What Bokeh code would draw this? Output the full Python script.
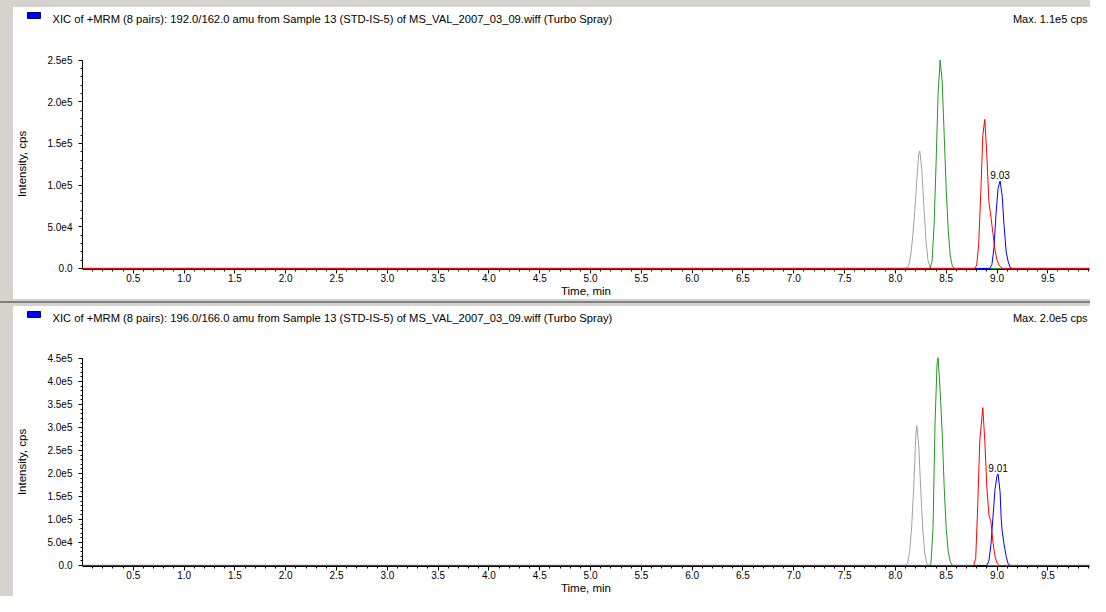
from bokeh.plotting import figure
from bokeh.models import Range1d, FixedTicker, Label, Div
from bokeh.layouts import column
from bokeh.core.properties import value
from bokeh.embed import file_html
from bokeh.resources import INLINE
import numpy as np

FONT = "Liberation Sans"
X_END = 9.91

titles = [
    "XIC of +MRM (8 pairs): 192.0/162.0 amu from Sample 13 (STD-IS-5) of MS_VAL_2007_03_09.wiff (Turbo Spray)",
    "XIC of +MRM (8 pairs): 196.0/166.0 amu from Sample 13 (STD-IS-5) of MS_VAL_2007_03_09.wiff (Turbo Spray)",
]
max_labels = ["Max. 1.1e5 cps", "Max. 2.0e5 cps"]
peak_rt = [9.03, 9.01]
peak_int = [1.05e5, 1.99e5]

x_ticks = [0.5, 1.0, 1.5, 2.0, 2.5, 3.0, 3.5, 4.0, 4.5, 5.0, 5.5, 6.0, 6.5, 7.0, 7.5, 8.0, 8.5, 9.0, 9.5]
x_tick_labels = ["0.5", "1.0", "1.5", "2.0", "2.5", "3.0", "3.5", "4.0", "4.5", "5.0",
                 "5.5", "6.0", "6.5", "7.0", "7.5", "8.0", "8.5", "9.0", "9.5"]

top_y_ticks = [0, 5e4, 1e5, 1.5e5, 2e5, 2.5e5]
top_y_labels = ["0.0", "5.0e4", "1.0e5", "1.5e5", "2.0e5", "2.5e5"]
bot_y_ticks = [0, 5e4, 1e5, 1.5e5, 2e5, 2.5e5, 3e5, 3.5e5, 4e5, 4.5e5]
bot_y_labels = ["0.0", "5.0e4", "1.0e5", "1.5e5", "2.0e5", "2.5e5", "3.0e5", "3.5e5", "4.0e5", "4.5e5"]

# ---- top panel traces (time, intensity)
top_gray_t = [0.0, 8.10, 8.13, 8.15, 8.17, 8.19, 8.21, 8.23, 8.24, 8.26, 8.28, 8.30, 8.32, 8.34, 8.36, X_END]
top_gray_i = [0, 0, 3e3, 1.5e4, 3.8e4, 6.8e4, 1.05e5, 1.38e5, 1.41e5, 1.18e5, 7.5e4, 3.5e4, 1.0e4, 1e3, 0, 0]
top_green_t = [0.0, 8.34, 8.36, 8.38, 8.40, 8.42, 8.44, 8.46, 8.48, 8.50, 8.52, 8.54, 8.56, 8.58, X_END]
top_green_i = [0, 0, 8e3, 5.0e4, 1.25e5, 2.1e5, 2.5e5, 2.25e5, 1.6e5, 9.5e4, 4.5e4, 1.5e4, 3e3, 0, 0]
top_blue_t = [0.0, 8.93, 8.95, 8.97, 8.99, 9.01, 9.03, 9.05, 9.07, 9.09, 9.11, 9.13, 9.15, X_END]
top_blue_i = [0, 0, 5e3, 2.5e4, 6.5e4, 9.6e4, 1.05e5, 8.8e4, 5.0e4, 2.0e4, 8e3, 1e3, 0, 0]
top_red_t = [0.0, 8.78, 8.80, 8.82, 8.84, 8.86, 8.88, 8.90, 8.92, 8.94, 8.96, 8.98, 9.00, 9.02, 9.04, 9.06, X_END]
top_red_i = [0, 0, 4e3, 3.0e4, 9.0e4, 1.6e5, 1.79e5, 1.35e5, 8.0e4, 6.2e4, 4.2e4, 2.2e4, 1.0e4, 4e3, 1e3, 0, 0]

# ---- bottom panel traces
bot_gray_t = [0.0, 8.10, 8.12, 8.14, 8.16, 8.18, 8.20, 8.21, 8.23, 8.25, 8.27, 8.29, 8.31, 8.33, X_END]
bot_gray_i = [0, 0, 5e3, 3.0e4, 8.5e4, 1.7e5, 2.8e5, 3.04e5, 2.6e5, 1.6e5, 7.5e4, 2.5e4, 4e3, 0, 0]
bot_green_t = [0.0, 8.34, 8.35, 8.37, 8.39, 8.41, 8.42, 8.44, 8.46, 8.48, 8.50, 8.52, 8.54, 8.56, X_END]
bot_green_i = [0, 0, 5e3, 8.0e4, 3.1e5, 4.4e5, 4.52e5, 3.8e5, 2.9e5, 1.7e5, 8.0e4, 3.0e4, 8e3, 0, 0]
bot_blue_t = [0.0, 8.90, 8.92, 8.94, 8.96, 8.98, 9.00, 9.01, 9.03, 9.04, 9.05, 9.07, 9.09, 9.11, 9.13, X_END]
bot_blue_i = [0, 0, 1.0e4, 4.5e4, 1.05e5, 1.65e5, 1.95e5, 1.99e5, 1.6e5, 1.05e5, 7.5e4, 4.5e4, 2.0e4, 3e3, 0, 0]
bot_red_t = [0.0, 8.77, 8.79, 8.81, 8.83, 8.86, 8.88, 8.90, 8.92, 8.94, 8.96, 8.98, 9.00, 9.02, X_END]
bot_red_i = [0, 0, 1.5e4, 1.3e5, 2.7e5, 3.43e5, 2.7e5, 1.7e5, 1.1e5, 9.5e4, 5.0e4, 2.0e4, 5e3, 0, 0]

COLORS = {"gray": "#a0a0a0", "green": "#1f9a1f", "blue": "#0000ff", "red": "#ff0000"}
PANEL_BG = "#d6d3ce"
FIG_W = 1077
HEAD_H = 36


def make_header(idx):
    h = figure(width=FIG_W, height=HEAD_H, output_backend="svg", toolbar_location=None,
               x_range=Range1d(0, FIG_W), y_range=Range1d(HEAD_H, 0),
               x_axis_type=None, y_axis_type=None, frame_align=False,
               min_border=0, min_border_left=0, min_border_right=0,
               min_border_top=0, min_border_bottom=0)
    h.outline_line_color = None
    h.grid.visible = False
    h.background_fill_color = "white"
    h.border_fill_color = "white"
    h.styles = {"background-color": "white"}
    h.quad(left=[14], right=[27], top=[5], bottom=[11], fill_color="#0000ff",
           line_color="#000080", line_width=1)
    h.text(x=[39], y=[11], text=[titles[idx]], text_font=value(FONT), text_font_size="11.2px",
           text_baseline="middle", text_align="left", text_color="black")
    h.text(x=[1074], y=[11], text=[max_labels[idx]], text_font=value(FONT), text_font_size="11px",
           text_baseline="middle", text_align="right", text_color="black")
    return h


def make_panel(idx, traces, y_ticks, y_labels, y_top, height, b_top, b_bottom):
    y_pad = y_top * 0.005
    p = figure(width=FIG_W, height=height, output_backend="svg", toolbar_location=None,
               x_range=Range1d(0, X_END), y_range=Range1d(-y_pad, y_top), frame_align=False,
               min_border_left=67, min_border_right=1, min_border_top=b_top, min_border_bottom=b_bottom)
    p.outline_line_color = None
    p.xgrid.visible = False
    p.ygrid.visible = False
    p.background_fill_color = "white"
    p.border_fill_color = "white"
    p.styles = {"background-color": "white"}

    for name, (t, i) in traces:
        p.line(t, i, line_color=COLORS[name], line_width=1)

    xa = p.xaxis[0]
    xa.ticker = FixedTicker(ticks=x_ticks, minor_ticks=list(np.round(np.arange(0.1, X_END, 0.1), 2)))
    xa.major_label_overrides = {t: l for t, l in zip(x_ticks, x_tick_labels)}
    xa.axis_label = "Time, min"
    ya = p.yaxis[0]
    ya.ticker = FixedTicker(ticks=y_ticks, minor_ticks=list(np.arange(0, y_ticks[-1] + 1, 1e4)))
    ya.major_label_overrides = {t: l for t, l in zip(y_ticks, y_labels)}
    ya.axis_label = "Intensity, cps"
    ya.bounds = (0, y_ticks[-1])
    xa.bounds = (0, X_END)
    for ax in (xa, ya):
        ax.axis_line_color = "black"
        ax.major_tick_line_color = "black"
        ax.minor_tick_line_color = "black"
        ax.major_tick_out = 4
        ax.major_tick_in = 0
        ax.minor_tick_out = 2
        ax.minor_tick_in = 0
        ax.major_label_text_font = FONT
        ax.major_label_text_font_size = "10px"
        ax.major_label_text_color = "black"
        ax.axis_label_text_font = FONT
        ax.axis_label_text_font_size = "11.5px"
        ax.axis_label_text_font_style = "normal"
        ax.axis_label_text_color = "black"
    xa.major_label_standoff = 0
    xa.axis_label_standoff = 0
    ya.major_label_standoff = 6
    ya.axis_label_standoff = 16

    p.add_layout(Label(x=peak_rt[idx], y=peak_int[idx], text=f"{peak_rt[idx]:.2f}",
                       text_font=FONT, text_font_size="10px", text_align="center",
                       text_baseline="bottom", y_offset=2, text_color="black"))
    return p


h1 = make_header(0)
p1 = make_panel(0, [("gray", (top_gray_t, top_gray_i)), ("green", (top_green_t, top_green_i)),
                    ("blue", (top_blue_t, top_blue_i)), ("red", (top_red_t, top_red_i))],
                top_y_ticks, top_y_labels, 2.52e5, 256, 15, 30)
h2 = make_header(1)
p2 = make_panel(1, [("gray", (bot_gray_t, bot_gray_i)), ("green", (bot_green_t, bot_green_i)),
                    ("blue", (bot_blue_t, bot_blue_i)), ("red", (bot_red_t, bot_red_i))],
                bot_y_ticks, bot_y_labels, 4.52e5, 254, 15, 30)

h1.margin = (7, 0, 0, 13)
p1.margin = (0, 0, 0, 13)
h2.margin = (0, 0, 0, 13)
p2.margin = (0, 0, 0, 13)
sep = Div(text="", width=1090, height=2, margin=(2, 0, 3, 0), styles={"background-color": "#808080"})

layout = column(h1, p1, sep, h2, p2, spacing=0, styles={"background-color": PANEL_BG})

open("out.html", "w").write(file_html(layout, INLINE))
